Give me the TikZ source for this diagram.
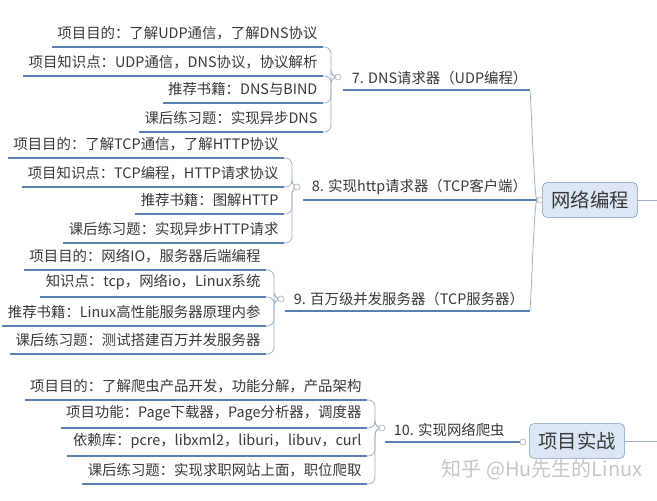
\documentclass[tikz,border=0pt]{standalone}
\usepackage{fontspec}
\newfontfamily\cjk{Noto Sans CJK SC}
\usetikzlibrary{positioning}
\definecolor{lineblue}{RGB}{88,128,178}
\definecolor{linkgray}{RGB}{160,175,195}
\definecolor{topicfill}{RGB}{220,230,244}
\definecolor{topicedge}{RGB}{120,150,190}

\begin{document}
\begin{tikzpicture}[
  x=0.75pt, y=-0.75pt,
  every node/.style={font=\cjk\fontsize{10.8}{12}\selectfont, text=black!78},
  leaf/.style={anchor=south east, inner xsep=4pt, inner ysep=5pt},
  branch/.style={anchor=south west, inner xsep=6.5pt, inner ysep=3.5pt},
  topic/.style={draw=topicedge, fill=topicfill, rounded corners=3pt, minimum width=71pt, minimum height=26pt, font=\cjk\fontsize{14.5}{16}\selectfont},
  toggle/.style={circle, draw=gray!60, fill=white, inner sep=0pt, minimum size=4.5pt},
  uline/.style={draw=lineblue, line width=1pt},
  link/.style={draw=linkgray, line width=0.6pt, rounded corners=5pt}
]
\useasboundingbox (0,0) rectangle (657,500);

% Main topics
\node[topic] (net) at (590,200) {网络编程};
\node[toggle] (m1) at (540,200) {};
\node[topic] (proj) at (577,441) {项目实战};
\node[toggle] (m2) at (523,442) {};
\coordinate (e1) at (657,200);
\coordinate (e2) at (657,441);
\draw[link] (net.east) -- (e1);
\draw[link] (proj.east) -- (e2);

% 7. DNS
\node[leaf] (d1) at (323,47) {项目目的：了解UDP通信，了解DNS协议};
\node[leaf] (d2) at (323,76) {项目知识点：UDP通信，DNS协议，协议解析};
\node[leaf] (d3) at (323,103) {推荐书籍：DNS与BIND};
\node[leaf] (d4) at (323,132) {课后练习题：实现异步DNS};
\node[toggle] (t7) at (338,77) {};
\node[branch] (b7) at (343,90) {7. DNS请求器（UDP编程）};
\coordinate (j7) at (530,90);

% 8. HTTP
\node[leaf] (h1) at (284,158) {项目目的：了解TCP通信，了解HTTP协议};
\node[leaf] (h2) at (284,187) {项目知识点：TCP编程，HTTP请求协议};
\node[leaf] (h3) at (284,214) {推荐书籍：图解HTTP};
\node[leaf] (h4) at (284,243) {课后练习题：实现异步HTTP请求};
\node[toggle] (t8) at (297,187) {};
\node[branch] (b8) at (303,200) {8. 实现http请求器（TCP客户端）};

% 9. server
\node[leaf] (s1) at (266,270) {项目目的：网络IO，服务器后端编程};
\node[leaf] (s2) at (266,297) {知识点：tcp，网络io，Linux系统};
\node[leaf] (s3) at (266,326) {推荐书籍：Linux高性能服务器原理内参};
\node[leaf] (s4) at (266,354) {课后练习题：测试搭建百万并发服务器};
\node[toggle] (t9) at (281,299) {};
\node[branch] (b9) at (285,311) {9. 百万级并发服务器（TCP服务器）};
\coordinate (j9) at (530,311);

% 10. crawler
\node[leaf] (p1) at (367,400) {项目目的：了解爬虫产品开发，功能分解，产品架构};
\node[leaf] (p2) at (367,428) {项目功能：Page下载器，Page分析器，调度器};
\node[leaf] (p3) at (367,456) {依赖库：pcre，libxml2，liburi，libuv，curl};
\node[leaf] (p4) at (367,484) {课后练习题：实现求职网站上面，职位爬取};
\node[toggle] (t10) at (382,428) {};
\node[branch] (b10) at (385,442) {10. 实现网络爬虫};

% Underlines
\foreach \n in {d1,d2,d3,d4,h1,h2,h3,h4,s1,s2,s3,s4,p1,p2,p3,p4}
  \draw[uline] (\n.south west) -- (\n.south east);
\draw[uline] (b7.south west) -- (j7);
\draw[uline] (b8.south west) -- (m1.west);
\draw[uline] (b9.south west) -- (j9);
\draw[uline] (b10.south west) -- (m2.west);

% Brackets
\foreach \t/\a/\b/\c/\d in {t7/d1/d2/d3/d4, t8/h1/h2/h3/h4, t9/s1/s2/s3/s4, t10/p1/p2/p3/p4}
  \foreach \n in {\a,\b,\c,\d}
    \draw[link] (\t.west) -| ([xshift=6pt]\n.south east) -- (\n.south east);
\draw[link] (m1.west) .. controls (534,190) and (532,120) .. (j7);
\draw[link] (m1.west) .. controls (534,210) and (532,280) .. (j9);

% Toggles on top
\foreach \t in {t7,t8,t9,t10,m1,m2}
  \node[toggle] at (\t) {};

% Watermark
\node[text=gray!45, font=\cjk\fontsize{15}{17}\selectfont] (wm) at (542,470) {知乎 @Hu先生的Linux};
\end{tikzpicture}
\end{document}
